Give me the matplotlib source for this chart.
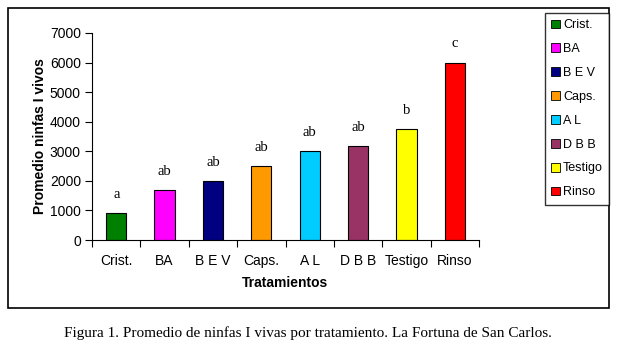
import matplotlib.pyplot as plt
from matplotlib.patches import Rectangle, Patch
from matplotlib.ticker import FixedLocator, NullFormatter

# Data
tratamientos = ['Crist.', 'BA', 'B E V', 'Caps.', 'A L', 'D B B', 'Testigo', 'Rinso']
promedio = [900, 1680, 1990, 2500, 3000, 3170, 3740, 6000]
letras = ['a', 'ab', 'ab', 'ab', 'ab', 'ab', 'b', 'c']
colores = ['#008000', '#FF00FF', '#000080', '#FF9900', '#00CCFF', '#993366', '#FFFF00', '#FF0000']

sans = 'Liberation Sans'
serif = 'Liberation Serif'

fig = plt.figure(figsize=(6.27, 3.54), dpi=100)
ax = fig.add_axes([92 / 627, 1 - 240 / 354, 387 / 627, 207 / 354])

x = list(range(len(tratamientos)))
ax.bar(x, promedio, width=0.42, color=colores, edgecolor='black', linewidth=0.8)

# Significance letters above bars
for xi, v, l in zip(x, promedio, letras):
    ax.annotate(l, (xi, v), xytext=(0, 9), textcoords='offset points',
                ha='center', va='bottom', fontsize=10.5, family=serif)

ax.set_xlim(-0.5, len(tratamientos) - 0.5)
ax.set_ylim(0, 7000)
ax.set_yticks(range(0, 7001, 1000))
ax.set_xticks(x)
ax.set_xticklabels(tratamientos, family=sans, fontsize=10)
ax.xaxis.set_minor_locator(FixedLocator([i - 0.5 for i in range(len(tratamientos) + 1)]))
ax.xaxis.set_minor_formatter(NullFormatter())
ax.tick_params(axis='x', which='major', length=0, pad=10)
ax.tick_params(axis='x', which='minor', length=5, direction='out', width=0.8)
ax.tick_params(axis='y', length=5, direction='out', width=0.8, labelsize=10, pad=3)
for lab in ax.get_yticklabels():
    lab.set_family(sans)

ax.spines['top'].set_visible(False)
ax.spines['right'].set_visible(False)
ax.spines['left'].set_linewidth(0.8)
ax.spines['bottom'].set_linewidth(0.8)

ax.set_xlabel('Tratamientos', family=sans, fontsize=10, fontweight='bold', labelpad=6)
ax.set_ylabel('Promedio ninfas I vivos', family=sans, fontsize=10, fontweight='bold', labelpad=2)

# Legend
handles = [Patch(facecolor=c, edgecolor='black', linewidth=0.6) for c in colores]
leg = fig.legend(handles, tratamientos, loc='upper right',
                 bbox_to_anchor=(609 / 627, 1 - 13 / 354),
                 frameon=True, fancybox=False, edgecolor='black',
                 handlelength=0.7, handleheight=0.7, handletextpad=0.25,
                 labelspacing=0.95, borderpad=0.5, borderaxespad=0,
                 prop={'family': sans, 'size': 9})
leg.get_frame().set_linewidth(1.0)

# Outer chart border
fig.add_artist(Rectangle((8 / 627, 1 - 308 / 354), 601 / 627, 300 / 354,
                         transform=fig.transFigure, fill=False,
                         edgecolor='black', linewidth=1.2))

fig.text(308 / 627, 1 - 333 / 354,
         'Figura 1. Promedio de ninfas I vivas por tratamiento. La Fortuna de San Carlos.',
         ha='center', va='center', family=serif, fontsize=11)

fig.savefig('out.png', dpi=100)
